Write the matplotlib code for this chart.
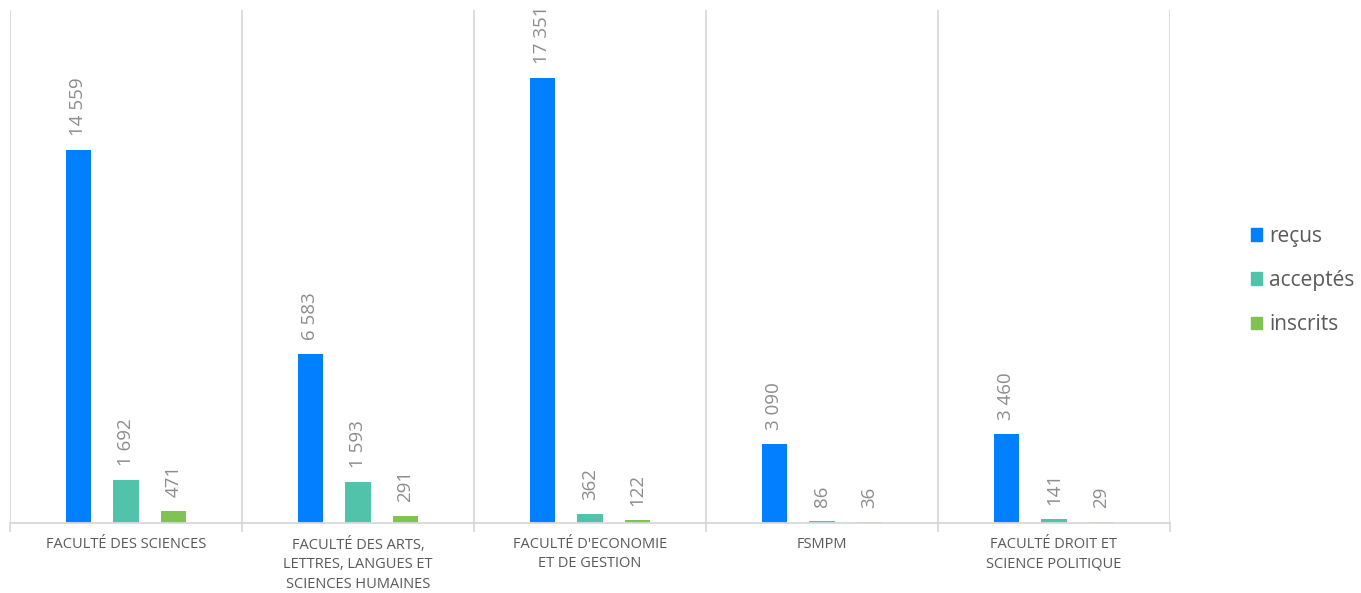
import numpy as np
import matplotlib.pyplot as plt
from matplotlib.patches import Patch

plt.rcParams['font.family'] = ['Open Sans', 'DejaVu Sans']

categories = ["FACULTÉ DES SCIENCES",
              "FACULTÉ DES ARTS,\nLETTRES, LANGUES ET\nSCIENCES HUMAINES",
              "FACULTÉ D'ECONOMIE\nET DE GESTION",
              "FSMPM",
              "FACULTÉ DROIT ET\nSCIENCE POLITIQUE"]
recus = [14559, 6583, 17351, 3090, 3460]
acceptes = [1692, 1593, 362, 86, 141]
inscrits = [471, 291, 122, 36, 29]

series = [("reçus", recus, "#0080ff"),
          ("acceptés", acceptes, "#52c3ab"),
          ("inscrits", inscrits, "#7fc353")]

fig = plt.figure(figsize=(13.61, 5.93), dpi=100)
ax = fig.add_axes([10 / 1361, 70 / 593, 1160 / 1361, 513 / 593])

x = np.arange(len(categories))
step = 0.205
width = 0.108
for i, (name, vals, col) in enumerate(series):
    pos = x + (i - 1) * step
    ax.bar(pos, vals, width, color=col, label=name, zorder=2)
    for p, v in zip(pos, vals):
        lab = f"{v:,}".replace(",", " ")
        ax.annotate(lab, (p, v), xytext=(0, 10), textcoords="offset points",
                    rotation=90, ha="center", va="bottom",
                    fontsize=13.5, color="#8c8c8c")

ax.set_xlim(-0.5, len(categories) - 0.5)
ax.set_ylim(0, 20000)

# vertical separators between categories
for b in np.arange(-0.5, len(categories), 1.0):
    ax.axvline(b, color="#d9d9d9", lw=1.3, zorder=1)
    ax.plot([b, b], [0, -0.015], transform=ax.get_xaxis_transform(),
            color="#d9d9d9", lw=1.3, clip_on=False)

for s in ["top", "right", "left"]:
    ax.spines[s].set_visible(False)
ax.spines["bottom"].set_color("#d9d9d9")
ax.spines["bottom"].set_linewidth(1.3)
ax.set_yticks([])
ax.set_xticks(x)
ax.set_xticklabels(categories, fontsize=10.5, color="#595959", linespacing=1.4)
ax.tick_params(axis="x", length=0, pad=10)

handles = [Patch(color=c, label=n) for n, _, c in series]
fig.legend(handles=handles, loc="center left", bbox_to_anchor=(1232 / 1361, 0.527),
           frameon=False, fontsize=15, labelcolor="#595959",
           handlelength=0.55, handleheight=0.55, handletextpad=0.35, labelspacing=1.12)

fig.savefig("out.png", dpi=100)
